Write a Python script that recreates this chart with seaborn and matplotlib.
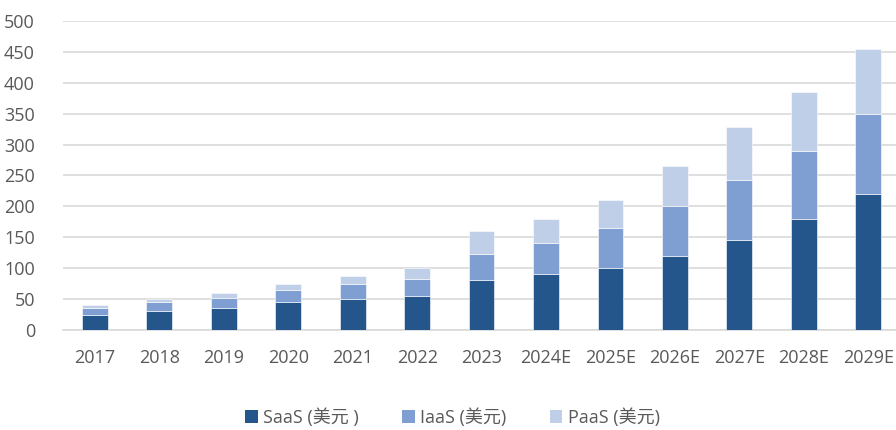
import pandas as pd
import matplotlib
matplotlib.use('Agg')
import matplotlib.pyplot as plt
import seaborn as sns
from matplotlib.patches import Patch

# Data
years = ['2017', '2018', '2019', '2020', '2021', '2022', '2023',
         '2024E', '2025E', '2026E', '2027E', '2028E', '2029E']
saas = [25, 30, 35, 45, 50, 55, 81, 90, 100, 120, 145, 180, 220]
iaas = [10, 15, 17, 20, 25, 28, 42, 50, 65, 80, 98, 110, 130]
paas = [5, 5, 8, 10, 12, 17, 37, 40, 45, 65, 85, 95, 105]
labels = ['SaaS (美元 )', 'IaaS (美元)', 'PaaS (美元)']
colors = ['#24568C', '#7F9FD3', '#BFCFE8']

sns.set_style('white')
plt.rcParams['font.family'] = ['Open Sans', 'Noto Sans CJK SC', 'DejaVu Sans']

df = pd.DataFrame({'year': years, 'SaaS': saas, 'IaaS': iaas, 'PaaS': paas})

fig = plt.figure(figsize=(8.96, 4.30), dpi=100)
ax = fig.add_axes([0.070, 0.2326, 0.935, 0.7186])

bottom = [0] * len(years)
for col, color in zip(['SaaS', 'IaaS', 'PaaS'], colors):
    sns.barplot(data=df, x='year', y=col, color=color, width=0.4,
                bottom=bottom, edgecolor='white', linewidth=0.4,
                saturation=1, ax=ax, zorder=3)
    bottom = [b + v for b, v in zip(bottom, df[col])]

ax.set_ylim(0, 500)
ax.set_xlim(-0.5, len(years) - 0.5)
ax.set_yticks(range(0, 501, 50))
ax.yaxis.grid(True, color='#D9D9D9', linewidth=1.2, zorder=0)
ax.set_axisbelow(True)
for s in ['top', 'right', 'left']:
    ax.spines[s].set_visible(False)
ax.spines['bottom'].set_color('#D9D9D9')
ax.spines['bottom'].set_linewidth(1.2)
ax.set_xlabel('')
ax.set_ylabel('')
ax.tick_params(axis='both', length=0, labelsize=13, colors='#595959')
ax.tick_params(axis='x', pad=14)
ax.tick_params(axis='y', pad=20)

handles = [Patch(facecolor=c, edgecolor='none') for c in colors]
fig.legend(handles, labels, loc='lower center', bbox_to_anchor=(0.505, -0.03),
           ncol=3, frameon=False, fontsize=13, handlelength=0.7,
           handleheight=0.7, handletextpad=0.3, columnspacing=2.4,
           labelcolor='#595959')

fig.savefig('out.png', dpi=100)
